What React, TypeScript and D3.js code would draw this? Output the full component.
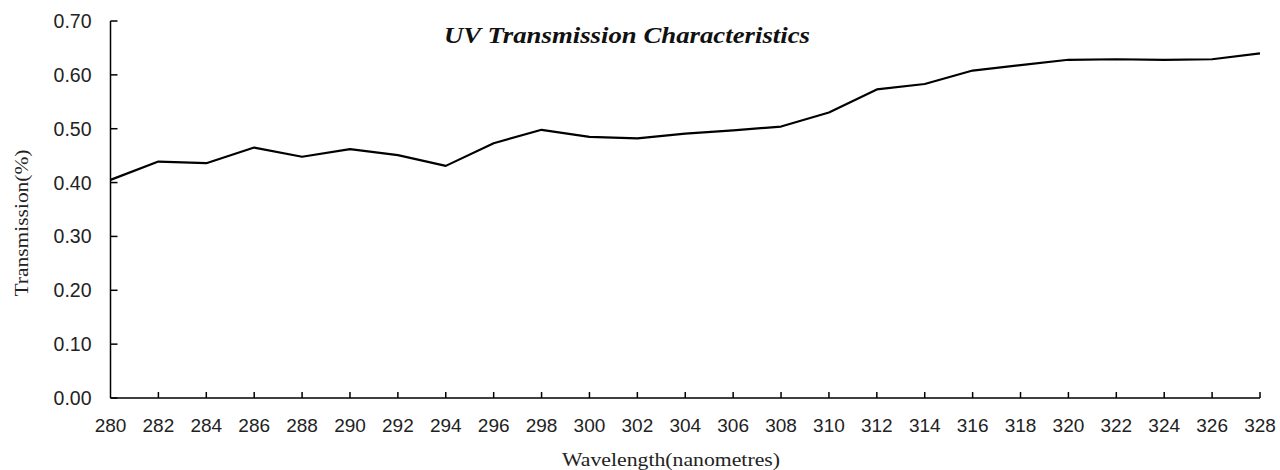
import React from "react";
import * as d3 from "d3";

const wavelengths = [280, 282, 284, 286, 288, 290, 292, 294, 296, 298, 300, 302, 304, 306, 308, 310, 312, 314, 316, 318, 320, 322, 324, 326, 328];
const transmission = [0.405, 0.439, 0.436, 0.465, 0.448, 0.462, 0.451, 0.431, 0.473, 0.498, 0.485, 0.482, 0.491, 0.497, 0.504, 0.530, 0.573, 0.583, 0.608, 0.618, 0.628, 0.629, 0.628, 0.629, 0.640];
const yTicks = [0, 0.1, 0.2, 0.3, 0.4, 0.5, 0.6, 0.7];
const title = "UV Transmission Characteristics";
const xTitle = "Wavelength(nanometres)";
const yTitle = "Transmission(%)";

export default function App() {
  const W = 1280, H = 470;
  const left = 110.5, right = 1260, top = 21, bottom = 398;
  const x = d3.scaleLinear().domain([280, 328]).range([left, right]);
  const y = d3.scaleLinear().domain([0, 0.7]).range([bottom, top]);
  const line = d3.line<number>().x((_, i) => x(wavelengths[i])).y((d) => y(d));
  const sans = "'Liberation Sans', Arial, sans-serif";
  const serif = "'Liberation Serif', 'Times New Roman', serif";
  return (
    <svg width={W} height={H} style={{ position: "absolute", left: 0, top: 0, background: "#fff" }}>
      <rect width={W} height={H} fill="#fff" />
      <line x1={left} x2={left} y1={top} y2={bottom} stroke="#000" strokeWidth={1.5} />
      <line x1={left} x2={right} y1={bottom} y2={bottom} stroke="#000" strokeWidth={1.5} />
      {yTicks.map((t) => (
        <g key={t}>
          <line x1={left} x2={left + 7} y1={y(t)} y2={y(t)} stroke="#000" strokeWidth={1.5} />
          <text x={91.5} y={y(t)} dy="0.36em" textAnchor="end" fontFamily={sans} fontSize={19.5} fill="#222">
            {t.toFixed(2)}
          </text>
        </g>
      ))}
      {wavelengths.map((w) => (
        <g key={w}>
          {w !== 280 && (
            <line x1={x(w)} x2={x(w)} y1={bottom} y2={bottom - 6} stroke="#000" strokeWidth={1.5} />
          )}
          <text x={x(w)} y={431.5} textAnchor="middle" fontFamily={sans} fontSize={19} fill="#222">
            {w}
          </text>
        </g>
      ))}
      <path d={line(transmission) || ""} fill="none" stroke="#000" strokeWidth={2.2} strokeLinejoin="round" />
      <text x={627} y={43} textAnchor="middle" fontFamily={serif} fontStyle="italic" fontWeight="bold" fontSize={24} fill="#111" textLength={366} lengthAdjust="spacingAndGlyphs">
        {title}
      </text>
      <text x={671} y={466} textAnchor="middle" fontFamily={serif} fontSize={18} fill="#222" textLength={218} lengthAdjust="spacingAndGlyphs">
        {xTitle}
      </text>
      <text transform={`translate(28,223) rotate(-90)`} textAnchor="middle" fontFamily={serif} fontSize={18} fill="#222" textLength={147} lengthAdjust="spacingAndGlyphs">
        {yTitle}
      </text>
    </svg>
  );
}
